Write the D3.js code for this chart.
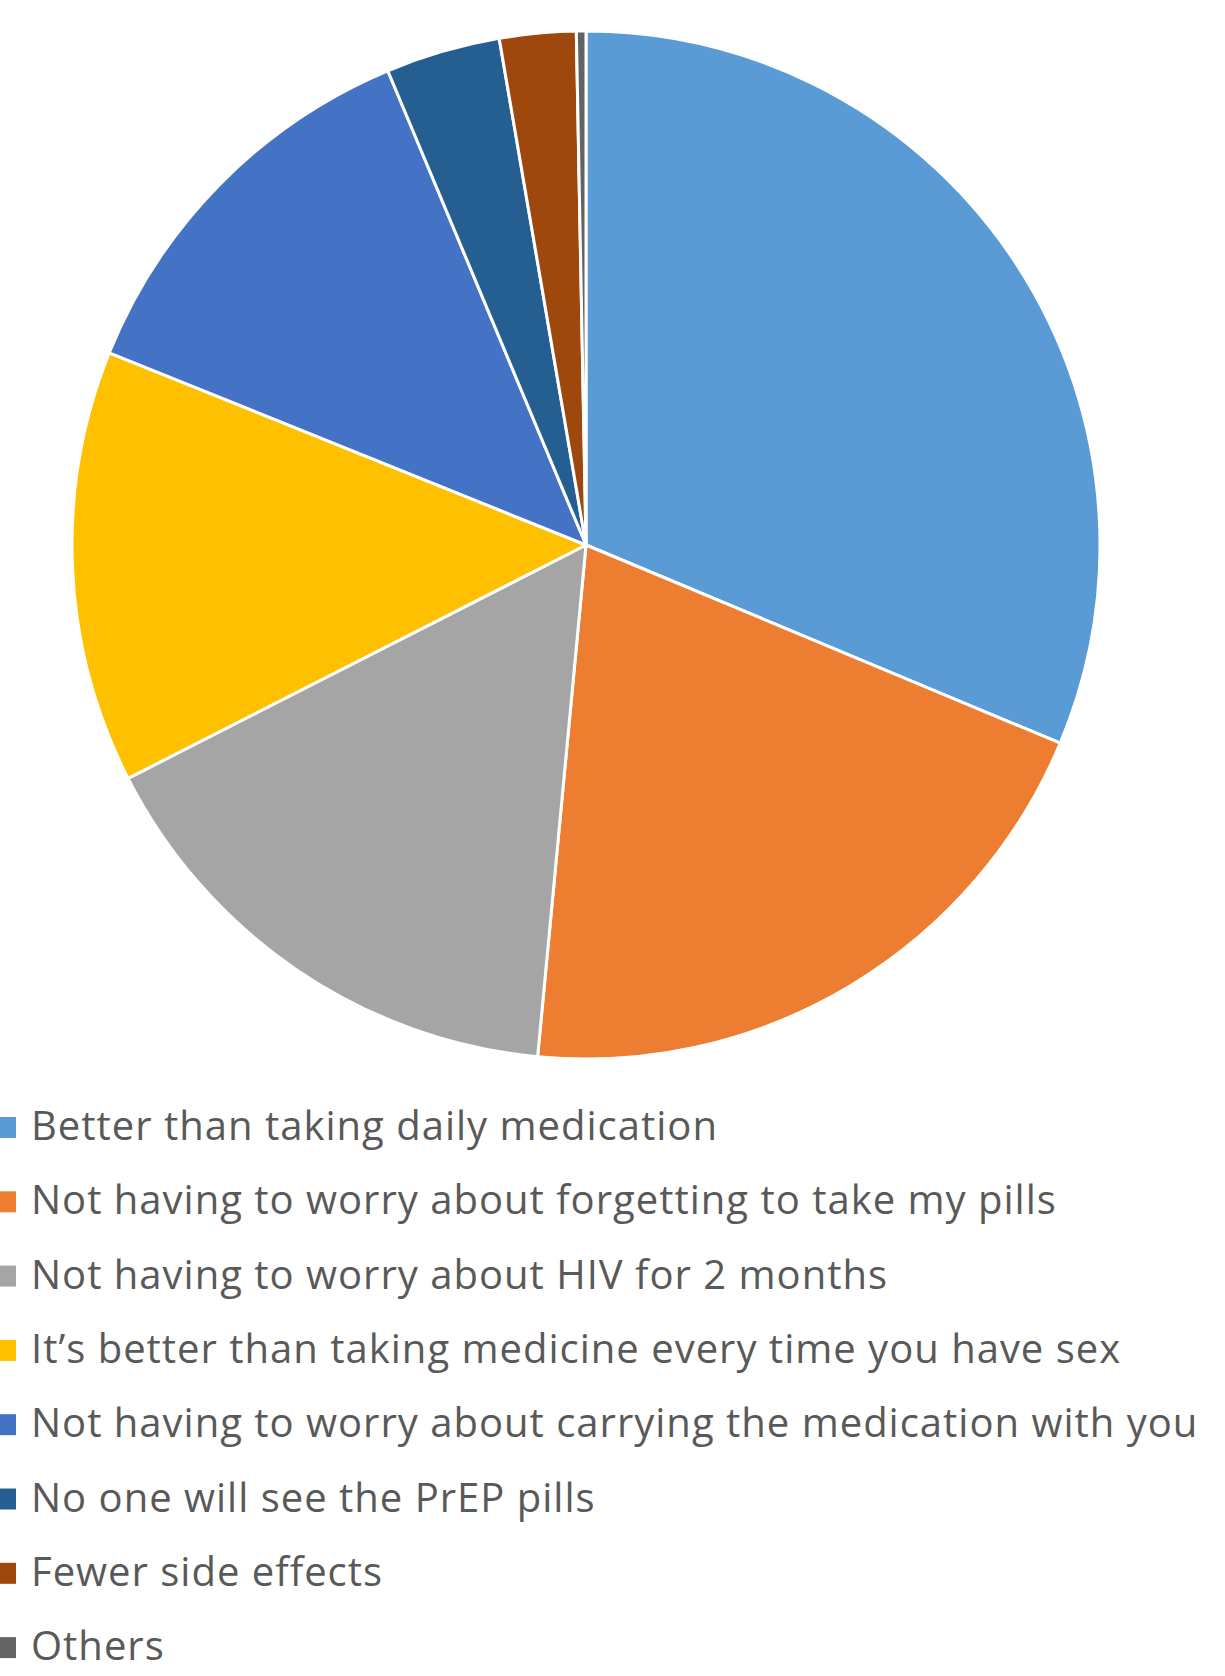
<!DOCTYPE html>
<html>
<head>
<meta charset="utf-8">
<script src="https://d3js.org/d3.v7.min.js"></script>
<style>
  body { margin: 0; background: #fff; }
  svg { display: block; }
  .legendText { font-family: "Open Sans", sans-serif; font-size: 40px; letter-spacing: 1px; fill: #595959; }
</style>
</head>
<body>
<div id="chart"></div>
<script>
// Chart data
var categories = [
  "Better than taking daily medication",
  "Not having to worry about forgetting to take my pills",
  "Not having to worry about HIV for 2 months",
  "It\u2019s better than taking medicine every time you have sex",
  "Not having to worry about carrying the medication with you",
  "No one will see the PrEP pills",
  "Fewer side effects",
  "Others"
];
var values = [31.3, 20.2, 16.0, 13.6, 12.6, 3.6, 2.4, 0.3];
var colors = ["#5B9BD5", "#ED7D31", "#A5A5A5", "#FFC000", "#4472C4", "#255E91", "#9E480E", "#636363"];

// SVG area
var svgWidth = 1225;
var svgHeight = 1676;

var svg = d3.select("#chart")
  .append("svg")
  .attr("width", svgWidth)
  .attr("height", svgHeight);

// pie geometry
var cx = 586, cy = 545, radius = 514;

var pie = d3.pie()
  .sort(null)
  .value(d => d);

var arc = d3.arc()
  .innerRadius(0)
  .outerRadius(radius);

var pieGroup = svg.append("g")
  .attr("transform", `translate(${cx}, ${cy})`);

pieGroup.selectAll("path")
  .data(pie(values))
  .enter()
  .append("path")
  .attr("d", arc)
  .attr("fill", (d, i) => colors[i])
  .attr("stroke", "#fff")
  .attr("stroke-width", 3)
  .attr("stroke-linejoin", "round");

// legend
var legendTop = 1140;   // baseline of first row
var rowStep = 74.3;

var legend = svg.append("g");

var rows = legend.selectAll("g")
  .data(categories)
  .enter()
  .append("g")
  .attr("transform", (d, i) => `translate(0, ${legendTop + i * rowStep})`);

rows.append("rect")
  .attr("x", -4)
  .attr("y", -23)
  .attr("width", 20)
  .attr("height", 21)
  .attr("fill", (d, i) => colors[i]);

rows.append("text")
  .attr("class", "legendText")
  .attr("x", 31)
  .attr("y", 0)
  .text(d => d);
</script>
</body>
</html>
